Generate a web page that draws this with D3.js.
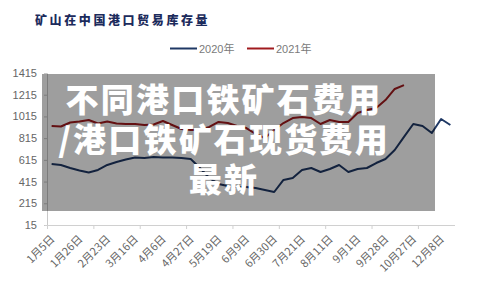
<!DOCTYPE html>
<html><head><meta charset="utf-8">
<script src="https://cdn.jsdelivr.net/npm/d3@7"></script>
<style>
html,body{margin:0;padding:0;background:#fff;}
svg{display:block;}
</style></head>
<body>
<svg id="chart" width="479" height="286"></svg>
<script>
const title = "矿山在中国港口贸易库存量";
const seriesNames = ["2020年", "2021年"];
const tickLabels = ["1月5日","1月26日","2月23日","3月16日","4月6日","4月27日","5月19日","6月9日","6月30日","7月21日","8月11日","9月1日","9月28日","10月27日","12月8日"];
const yTicks = [15, 215, 415, 615, 815, 1015, 1215, 1415];
const values2020 = [577,568,540,517,498,522,568,595,618,637,632,641,637,637,632,623,540,448,393,374,365,365,356,337,319,430,448,522,540,503,531,568,503,531,540,586,623,706,826,945,927,862,991,936];
const values2021 = [927,922,959,968,982,950,968,950,945,945,936,941,973,936,899,890,890,918,964,954,927,908,853,816,890,954,1000,1010,1000,945,982,964,964,1046,1074,1093,1166,1268,1304];
const overlayLines = ["不同港口铁矿石费用", "/港口铁矿石现货费用", "最新"];

const nCat = values2020.length;
const svg = d3.select("#chart");
const x = d3.scaleBand().domain(d3.range(nCat)).range([47, 455]).paddingInner(0).paddingOuter(0);
const cx = i => x(i) + x.bandwidth() / 2;
const y = d3.scaleLinear().domain([15, 1415]).range([225, 73]);

// title
svg.append("text").attr("x", 35).attr("y", 25)
  .attr("font-family", "'Noto Sans CJK SC'").attr("font-weight", 900)
  .attr("font-size", 12).attr("letter-spacing", 2.6)
  .attr("fill", "#1c2b5c").text(title);

// legend
const legColors = ["#1f3864", "#a01a1e"];
const legX = [170, 247];
seriesNames.forEach((n, k) => {
  svg.append("line").attr("x1", legX[k]).attr("x2", legX[k] + 27)
    .attr("y1", 48.5).attr("y2", 48.5).attr("stroke", legColors[k]).attr("stroke-width", 2);
  svg.append("text").attr("x", legX[k] + 29).attr("y", 52.5)
    .attr("font-family", "'Liberation Sans','Noto Sans CJK SC'").attr("font-size", 11)
    .attr("fill", "#7a7a7a").text(n);
});

// y axis
const yAxis = d3.axisLeft(y).tickValues(yTicks).tickSize(3).tickPadding(7).tickFormat(d3.format("d"));
const gy = svg.append("g").attr("transform", "translate(47,0)").call(yAxis);
gy.select(".domain").attr("stroke", "#c8c8c8");
gy.selectAll(".tick line").attr("stroke", "#c8c8c8");
gy.selectAll(".tick text").attr("font-family", "'Liberation Sans',Arial").attr("font-size", 11).attr("fill", "#666");

// x axis
const xAxis = d3.axisBottom(x).tickValues(d3.range(0, nCat, 5)).tickSize(4).tickFormat("");
const gx = svg.append("g").attr("transform", "translate(0,225)").call(xAxis);
gx.select(".domain").attr("stroke", "#d0d0d0").attr("d", "M45,0.5H455");
gx.selectAll(".tick").attr("transform", d => `translate(${x(d) + 0.5},0)`);
gx.selectAll(".tick line").attr("stroke", "#d0d0d0");

// x labels
tickLabels.forEach((t, k) => {
  const i = k * 3;
  svg.append("text")
    .attr("transform", `translate(${cx(i) + 1},237) rotate(-45)`)
    .attr("text-anchor", "end").attr("dy", "0.35em")
    .attr("font-family", "'Noto Sans CJK SC'").attr("font-size", 11)
    .attr("fill", "#666").text(t);
});

// lines
const line = d3.line().x((d, i) => cx(i)).y(d => y(d));
svg.append("path").datum(values2020).attr("d", line)
  .attr("fill", "none").attr("stroke", legColors[0]).attr("stroke-width", 2).attr("stroke-linejoin", "round");
svg.append("path").datum(values2021).attr("d", line)
  .attr("fill", "none").attr("stroke", legColors[1]).attr("stroke-width", 2).attr("stroke-linejoin", "round");

// overlay
svg.append("rect").attr("x", 42).attr("y", 74).attr("width", 393).attr("height", 137)
  .attr("fill", "#000").attr("fill-opacity", 0.38);
overlayLines.forEach((t, k) => {
  svg.append("text").attr("x", 224).attr("y", 112 + k * 40)
    .attr("text-anchor", "middle")
    .attr("font-family", "'Noto Sans CJK SC'").attr("font-weight", 900)
    .attr("font-size", 33).attr("letter-spacing", 2.2).attr("fill", "#fff").text(t);
});
</script>
</body></html>
